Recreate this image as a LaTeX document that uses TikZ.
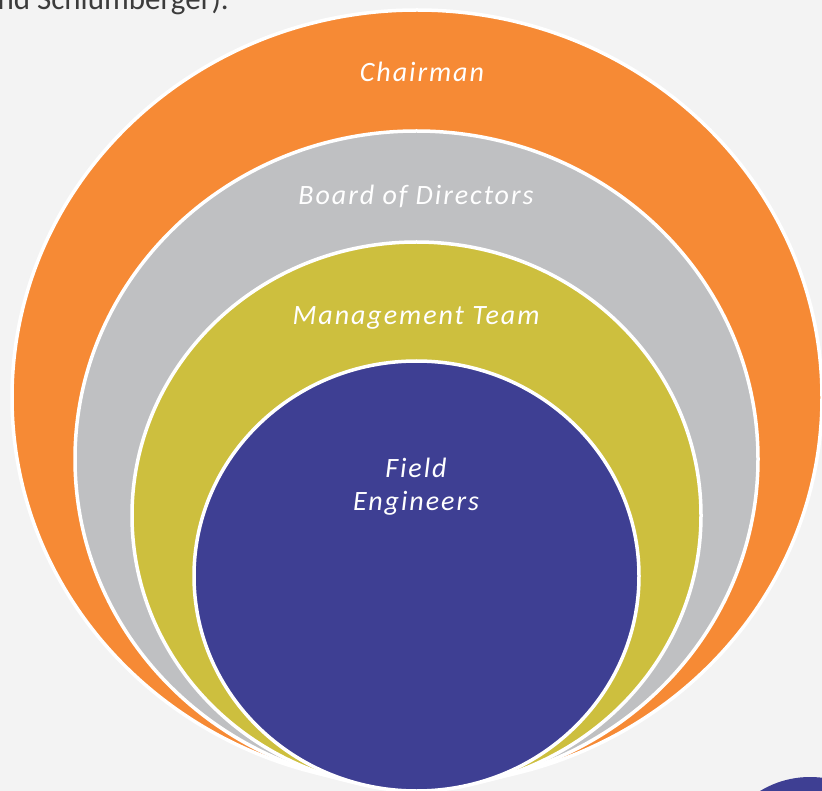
\documentclass[tikz,border=0pt]{standalone}
\usepackage{fontspec}
\setmainfont{Carlito}
\newfontfamily\ringfont[LetterSpace=7]{Carlito}
\definecolor{bgcol}{HTML}{F3F3F3}
\definecolor{chaircol}{HTML}{F68A35}
\definecolor{boardcol}{HTML}{BFC0C2}
\definecolor{mgmtcol}{HTML}{CDBF3E}
\definecolor{fieldcol}{HTML}{3E3F93}
\definecolor{textcol}{HTML}{3C3C3C}
\tikzset{
  ring/.style={draw=white,line width=3.5pt},
  ringlabel/.style={text=white,font=\ringfont\itshape\fontsize{28}{33}\selectfont,align=center}
}
\begin{document}
\begin{tikzpicture}[x=1pt,y=-1pt]
\fill[bgcol] (0,0) rectangle (822,791);
\useasboundingbox (0,0) rectangle (822,791);
\begin{scope}
\clip (0,0) rectangle (822,791);
% running text cut off at the top
\node[anchor=base east,text=textcol,font=\fontsize{31}{36}\selectfont,inner sep=0pt] (caption) at (229,10) {and Schlumberger).};
% the nested rings
\fill[chaircol,ring] (417,397.5) ellipse [x radius=405,y radius=387.5];
\fill[boardcol,ring] (416.5,459) ellipse [x radius=341.5,y radius=328];
\fill[mgmtcol,ring] (416.5,515.5) ellipse [x radius=284.5,y radius=273.5];
\fill[fieldcol,ring] (416.5,576) ellipse [x radius=222.5,y radius=215];
% next slide element peeking in
\fill[fieldcol] (810,873) circle (96);
\end{scope}
\node[ringlabel] (chairman) at (422,72) {Chairman};
\node[ringlabel] (board) at (416,196) {Board of Directors};
\node[ringlabel] (mgmt) at (416,318) {Management Team};
\node[ringlabel] (field) at (416,487) {Field\\Engineers};
\end{tikzpicture}
\end{document}
